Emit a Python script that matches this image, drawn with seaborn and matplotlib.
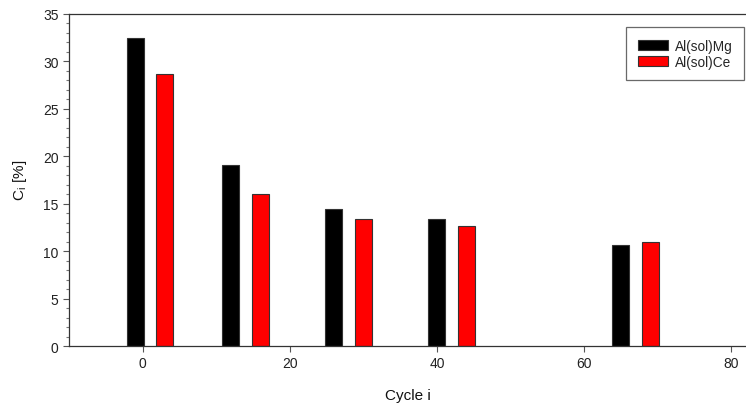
import matplotlib
matplotlib.use("Agg")
import matplotlib.pyplot as plt
import seaborn as sns
import pandas as pd
from matplotlib.ticker import MultipleLocator

cycles = [1, 14, 28, 42, 67]
mg_values = [32.45, 19.1, 14.4, 13.35, 10.6]
ce_values = [28.7, 16.05, 13.4, 12.65, 10.95]
series_names = ["Al(sol)Mg", "Al(sol)Ce"]
x_ticks = [0, 20, 40, 60, 80]
y_ticks = [0, 5, 10, 15, 20, 25, 30, 35]

df = pd.DataFrame({
    "cycle": cycles * 2,
    "value": mg_values + ce_values,
    "series": [series_names[0]] * len(cycles) + [series_names[1]] * len(cycles),
})

sns.set_theme(style="ticks")
plt.rcParams['font.family'] = ['Liberation Sans', 'DejaVu Sans']

fig = plt.figure(figsize=(7.46, 4.06), dpi=100)
ax = fig.add_axes([0.0925, 0.1453, 0.9075, 0.8185])

sns.barplot(data=df, x="cycle", y="value", hue="series", native_scale=True,
            palette=["#000000", "#ff0000"], saturation=1, width=8 / 13, gap=0.425, dodge=True,
            edgecolor="#333333", linewidth=0.8, ax=ax, errorbar=None)

ax.set_xlim(-10, 82)
ax.set_ylim(0, 35)
ax.set_xticks(x_ticks)
ax.set_yticks(y_ticks)
ax.yaxis.set_minor_locator(MultipleLocator(1))
ax.tick_params(axis="both", which="major", direction="out", length=4, width=0.8,
               color="#555555", labelsize=10, labelcolor="#222222")
ax.tick_params(axis="y", which="minor", direction="out", length=2.5, width=0.8, color="#777777")
ax.tick_params(axis="x", which="minor", bottom=False)

for side in ["left", "bottom", "top"]:
    ax.spines[side].set_visible(True)
    ax.spines[side].set_color("#333333")
    ax.spines[side].set_linewidth(0.9)
ax.spines["right"].set_visible(False)

ax.set_xlabel("Cycle i", fontsize=11, color="#111111", labelpad=13)
ax.set_ylabel("C$_\\mathregular{i}$ [%]", fontsize=11, color="#111111", labelpad=10)

leg = ax.legend(loc="upper right", bbox_to_anchor=(0.997, 0.96), borderaxespad=0,
                frameon=True, fancybox=False, fontsize=9.8, handlelength=2.2,
                handleheight=0.8, borderpad=0.85, labelspacing=0.15, handletextpad=0.5,
                title=None)
leg.get_frame().set_edgecolor("#444444")
leg.get_frame().set_linewidth(0.9)

fig.savefig("out.png", dpi=100)
